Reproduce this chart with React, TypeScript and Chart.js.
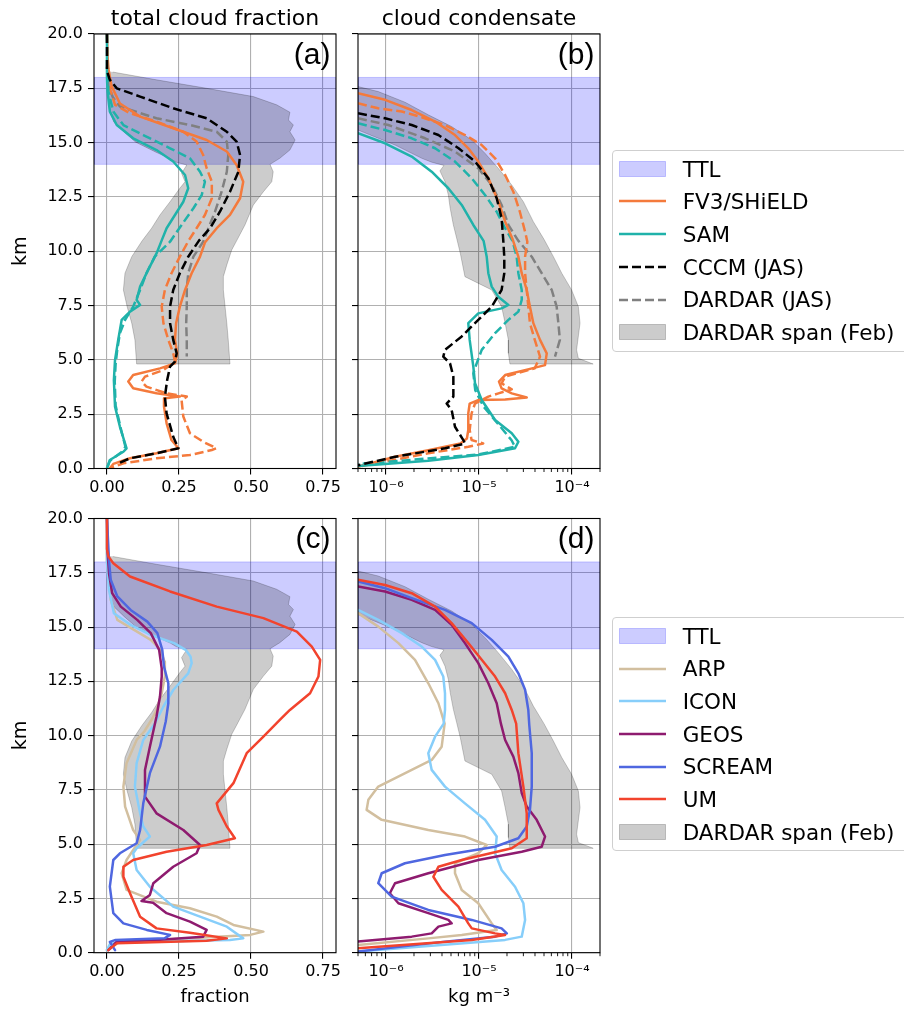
import React, { useEffect, useRef } from 'react';
import { Chart, registerables } from 'chart.js';

Chart.register(...registerables);

type Pt = [number, number];

// ---------- axes ----------
const fracMin = -0.045;
const fracMax = 0.795;
const condMin = 5e-7;
const condMax = 2e-4;
const kmMin = 0;
const kmMax = 20;
const kmTicks = [0, 2.5, 5, 7.5, 10, 12.5, 15, 17.5, 20];
const kmTickLabels = ['0.0', '2.5', '5.0', '7.5', '10.0', '12.5', '15.0', '17.5', '20.0'];
const fracTicks = [0, 0.25, 0.5, 0.75];
const fracTickLabels = ['0.00', '0.25', '0.50', '0.75'];
const condTicks = [1e-6, 1e-5, 1e-4];
const condTickLabels = ['10\u207B\u2076', '10\u207B\u2075', '10\u207B\u2074'];
const ttlBottom = 14;
const ttlTop = 18;

// ---------- panel (a): total cloud fraction, [fraction, km] ----------
const fv3Fraction: Pt[] = [[0,20],[0.002,19],[0.005,18.4],[0.016,17.6],[0.045,16.8],[0.115,16.2],[0.23,15.66],[0.346,15.12],[0.416,14.59],[0.45,13.97],[0.473,13.2],[0.462,12.44],[0.427,11.67],[0.381,11.06],[0.34,10.4],[0.323,9.75],[0.294,8.99],[0.271,8.22],[0.253,7.45],[0.24,6.69],[0.236,5.92],[0.244,5.3],[0.236,4.84],[0.184,4.61],[0.091,4.3],[0.074,4.0],[0.091,3.69],[0.172,3.46],[0.253,3.31],[0.201,3.23],[0.198,2.85],[0.207,2.08],[0.224,1.31],[0.248,0.93],[0.172,0.7],[0.08,0.47],[0.022,0.21],[0.01,0.01]];
const fv3FractionAlt: Pt[] = [[0,20],[0.003,18.5],[0.01,17.5],[0.028,16.74],[0.08,16.35],[0.172,15.97],[0.265,15.5],[0.311,15.05],[0.334,14.43],[0.346,13.82],[0.364,13.2],[0.364,12.44],[0.34,11.67],[0.311,11.06],[0.283,10.48],[0.253,9.75],[0.224,8.99],[0.201,8.22],[0.19,7.45],[0.196,6.69],[0.213,5.92],[0.23,5.3],[0.236,4.92],[0.196,4.53],[0.132,4.23],[0.12,4.0],[0.137,3.77],[0.207,3.46],[0.277,3.31],[0.259,3.15],[0.265,2.39],[0.288,1.62],[0.334,1.23],[0.38,0.93],[0.364,0.85],[0.288,0.62],[0.172,0.47],[0.057,0.24],[0.01,0.01]];
const samFraction: Pt[] = [[0,20],[0,18],[0.002,17.35],[0.01,16.43],[0.034,15.81],[0.091,15.2],[0.172,14.66],[0.23,14.13],[0.271,13.51],[0.282,12.9],[0.265,12.28],[0.236,11.67],[0.207,11.06],[0.19,10.5],[0.172,9.9],[0.143,9.14],[0.115,8.37],[0.103,7.76],[0.115,7.53],[0.08,7.22],[0.051,6.84],[0.039,5.92],[0.028,5.0],[0.024,4.07],[0.028,2.85],[0.045,1.92],[0.068,0.93],[0.057,0.77],[0.01,0.39],[0,0.01]];
const samFractionAlt: Pt[] = [[0,20],[0.005,17.35],[0.022,16.43],[0.057,15.81],[0.126,15.35],[0.219,14.74],[0.288,14.28],[0.323,13.66],[0.34,13.2],[0.329,12.59],[0.3,11.98],[0.259,11.21],[0.219,10.44],[0.166,9.75],[0.137,8.99],[0.115,8.22],[0.091,7.45],[0.063,6.84],[0.045,6.23],[0.036,5.5],[0.03,4.8],[0.027,4.0],[0.03,2.9],[0.046,1.95],[0.064,1.0],[0.05,0.75],[0.01,0.35],[0,0.01]];
const cccmFraction: Pt[] = [[0,20],[0,18.3],[0.01,17.89],[0.034,17.5],[0.115,17.12],[0.23,16.58],[0.346,16.12],[0.416,15.5],[0.45,15.05],[0.462,14.43],[0.456,13.66],[0.427,12.74],[0.392,11.82],[0.358,11.06],[0.32,10.5],[0.282,9.75],[0.253,8.99],[0.23,8.22],[0.219,7.45],[0.219,6.69],[0.23,5.92],[0.242,5.3],[0.236,4.92],[0.219,4.69],[0.209,4.07],[0.201,3.31],[0.207,2.54],[0.23,1.46],[0.248,0.93],[0.172,0.7],[0.08,0.47],[0.034,0.21]];
const dardarFraction: Pt[] = [[0,18.5],[0.005,17.6],[0.02,17.1],[0.045,16.66],[0.172,16.12],[0.288,15.81],[0.381,15.5],[0.416,15.05],[0.421,14.43],[0.416,13.66],[0.398,12.74],[0.375,11.82],[0.352,11.06],[0.334,10.44],[0.3,9.75],[0.282,8.99],[0.277,8.22],[0.277,7.45],[0.275,6.69],[0.277,5.92],[0.277,5.15]];
const spanFracMin: Pt[] = [[0,18.3],[0.003,17.5],[0.008,16.8],[0.012,16.4],[0.024,15.94],[0.06,15.48],[0.1,15.02],[0.17,14.56],[0.22,14.26],[0.24,14.1],[0.277,13.97],[0.259,13.59],[0.271,13.2],[0.253,12.9],[0.219,12.28],[0.184,11.67],[0.155,11.06],[0.122,10.48],[0.086,9.75],[0.0625,8.99],[0.057,8.22],[0.07,7.45],[0.086,6.69],[0.097,5.92],[0.103,4.81]];
const spanFracMax: Pt[] = [[0.427,4.81],[0.421,5.92],[0.416,6.69],[0.41,7.45],[0.404,8.22],[0.404,8.83],[0.416,9.37],[0.433,10.06],[0.45,10.48],[0.479,11.21],[0.508,12.13],[0.543,12.74],[0.572,13.2],[0.577,13.66],[0.566,14.0],[0.6,14.28],[0.635,14.66],[0.653,15.12],[0.635,15.5],[0.647,15.81],[0.63,16.04],[0.635,16.4],[0.589,16.74],[0.508,17.12],[0.346,17.5],[0.172,17.89],[0.02,18.25]];

// ---------- panel (b): cloud condensate, [kg m-3, km] ----------
const fv3Condensate: Pt[] = [[5.0e-7,17.27],[9.77e-7,16.97],[1.89e-6,16.5],[3.37e-6,15.97],[5.52e-6,15.35],[7.67e-6,14.74],[9.82e-6,14.13],[1.26e-5,13.36],[1.62e-5,12.28],[1.91e-5,11.36],[2.3e-5,10.55],[2.65e-5,9.75],[2.88e-5,8.99],[3.26e-5,8.22],[3.53e-5,7.45],[3.84e-5,6.69],[4.53e-5,5.92],[5.35e-5,5.3],[5.13e-5,4.76],[3.72e-5,4.61],[1.91e-5,4.3],[1.64e-5,4.0],[1.75e-5,3.69],[2.25e-5,3.46],[3.26e-5,3.27],[1.91e-5,3.18],[9.8e-6,3.15],[7.94e-6,2.99],[7.67e-6,2.54],[7.67e-6,1.77],[7.41e-6,1.38],[6.31e-6,1.15],[2.85e-6,0.84],[1.25e-6,0.54],[5.0e-7,0.08]];
const fv3CondensateAlt: Pt[] = [[5.0e-7,16.81],[8.26e-7,16.58],[1.48e-6,16.43],[2.42e-6,16.17],[4.31e-6,15.81],[7.08e-6,15.35],[1.07e-5,14.89],[1.49e-5,14.28],[1.91e-5,13.51],[2.34e-5,12.74],[2.75e-5,11.82],[3.13e-5,10.9],[3.31e-5,10.44],[3.13e-5,9.75],[3.13e-5,8.99],[3.26e-5,8.22],[3.39e-5,7.45],[3.53e-5,6.69],[3.98e-5,5.92],[4.53e-5,5.15],[3.98e-5,4.61],[1.91e-5,4.23],[1.75e-5,3.92],[2.25e-5,3.64],[1.62e-5,3.46],[1.26e-5,3.31],[9.06e-6,2.99],[8.32e-6,2.54],[7.94e-6,1.77],[8.32e-6,1.31],[1.11e-5,1.15],[7.67e-6,1.0],[2.85e-6,0.7],[5.0e-7,0.08]];
const samCondensate: Pt[] = [[5.0e-7,15.43],[9.77e-7,14.97],[1.89e-6,14.36],[3.1e-6,13.66],[4.68e-6,12.9],[6.52e-6,12.13],[8.69e-6,11.21],[1.12e-5,10.48],[1.21e-5,9.75],[1.26e-5,8.99],[1.37e-5,8.37],[1.61e-5,7.91],[2.07e-5,7.53],[1.75e-5,7.37],[9.82e-6,7.14],[7.67e-6,6.69],[7.94e-6,5.92],[8.69e-6,4.69],[9.06e-6,3.92],[1.07e-5,3.15],[1.49e-5,2.23],[2.25e-5,1.62],[2.65e-5,1.23],[2.44e-5,0.93],[9.82e-6,0.62],[2.85e-6,0.36],[5.0e-7,0.11]];
const samCondensateAlt: Pt[] = [[5.0e-7,15.89],[9.77e-7,15.58],[1.89e-6,15.2],[3.37e-6,14.74],[5.52e-6,14.13],[8.36e-6,13.36],[1.16e-5,12.59],[1.55e-5,11.82],[1.91e-5,11.06],[2.29e-5,10.48],[2.54e-5,9.75],[2.65e-5,8.99],[2.88e-5,8.22],[2.88e-5,7.76],[2.65e-5,7.22],[2.07e-5,6.84],[1.49e-5,6.23],[1.07e-5,5.46],[9.44e-6,4.84],[8.69e-6,4.38],[9.12e-6,3.6],[1.12e-5,2.85],[1.7e-5,1.92],[2.24e-5,1.3],[2.44e-5,1.0],[1.0e-5,0.65],[5.0e-7,0.2]];
const cccmCondensate: Pt[] = [[5.0e-7,16.35],[9.77e-7,16.12],[1.89e-6,15.81],[3.66e-6,15.35],[6.03e-6,14.74],[9.06e-6,14.13],[1.26e-5,13.36],[1.55e-5,12.44],[1.75e-5,11.52],[1.82e-5,10.56],[1.87e-5,9.75],[1.87e-5,8.99],[1.75e-5,8.22],[1.37e-5,7.45],[9.82e-6,6.84],[6.52e-6,6.08],[4.31e-6,5.46],[4.13e-6,5.15],[4.88e-6,4.84],[5.3e-6,4.23],[5.3e-6,3.31],[4.49e-6,2.99],[5.08e-6,2.69],[5.52e-6,1.92],[6.78e-6,1.31],[7.08e-6,1.15],[4.31e-6,0.93],[1.26e-6,0.54],[5.0e-7,0.15]];
const dardarCondensate: Pt[] = [[5.0e-7,16.12],[1.06e-6,15.81],[2.63e-6,15.2],[5.52e-6,14.59],[9.82e-6,13.82],[1.37e-5,13.05],[1.75e-5,12.13],[2.07e-5,11.21],[2.63e-5,10.5],[3.69e-5,9.75],[4.72e-5,8.99],[6.05e-5,8.22],[6.84e-5,7.45],[7.13e-5,6.69],[7.41e-5,5.92],[6.56e-5,5.15]];
const spanCondMin: Pt[] = [[5.0e-7,15.58],[1.25e-6,14.89],[2.42e-6,14.28],[3.1e-6,14.1],[4.2e-6,13.95],[3.8e-6,13.7],[4.31e-6,13.2],[4.68e-6,12.59],[4.9e-6,11.98],[5.3e-6,11.21],[5.75e-6,10.6],[6.3e-6,9.9],[7.06e-6,8.83],[1.37e-5,8.22],[1.75e-5,7.45],[1.91e-5,6.69],[2.07e-5,5.92],[2.07e-5,5.3],[2.15e-5,4.81]];
const spanCondMax: Pt[] = [[1.69e-4,4.81],[1.17e-4,5.07],[1.12e-4,5.46],[1.22e-4,6.69],[1.17e-4,7.45],[9.9e-5,8.22],[7.76e-5,8.99],[6.31e-5,9.75],[5.0e-5,10.55],[3.84e-5,11.36],[3.0e-5,12.28],[2.25e-5,13.05],[1.61e-5,13.82],[1.16e-5,14.51],[8.36e-6,15.12],[5.08e-6,15.74],[2.85e-6,16.28],[1.6e-6,16.86],[8.26e-7,17.35],[5.0e-7,17.58]];

// ---------- panel (c): total cloud fraction, [fraction, km] ----------
const arpFraction: Pt[] = [[0,20],[0,18],[0.013,16.25],[0.036,15.33],[0.094,14.87],[0.152,14.41],[0.186,13.95],[0.2,13.4],[0.201,12.72],[0.19,11.95],[0.172,11.18],[0.158,10.8],[0.13,10.2],[0.103,9.8],[0.068,8.73],[0.057,7.65],[0.063,6.73],[0.091,5.65],[0.115,5.19],[0.091,4.73],[0.068,4.27],[0.051,3.66],[0.068,2.89],[0.172,2.35],[0.288,2.05],[0.381,1.66],[0.439,1.28],[0.543,0.97],[0.497,0.82],[0.288,0.66],[0.045,0.51],[0,0.12]];
const iconFraction: Pt[] = [[0,20],[0,18],[0.007,16.71],[0.024,15.64],[0.082,15.1],[0.152,14.64],[0.233,14.26],[0.273,13.95],[0.29,13.64],[0.294,13.34],[0.282,12.87],[0.23,12.1],[0.196,11.34],[0.167,10.57],[0.126,9.8],[0.103,8.73],[0.097,7.65],[0.115,6.42],[0.126,5.81],[0.149,5.35],[0.103,4.81],[0.091,4.58],[0.103,3.81],[0.149,3.04],[0.23,2.12],[0.323,1.66],[0.416,1.2],[0.473,0.66],[0.427,0.59],[0.172,0.52],[0.012,0.45],[0,0.12]];
const geosFraction: Pt[] = [[0,20],[0.002,18.5],[0.007,17.48],[0.018,16.56],[0.048,15.94],[0.105,15.33],[0.152,14.72],[0.181,13.95],[0.19,13.1],[0.19,12.72],[0.184,11.8],[0.172,10.88],[0.149,9.49],[0.132,8.42],[0.132,7.19],[0.172,6.42],[0.265,5.65],[0.323,4.96],[0.311,4.58],[0.23,3.96],[0.161,3.2],[0.149,2.66],[0.12,2.38],[0.16,2.3],[0.207,1.82],[0.288,1.43],[0.346,1.05],[0.334,0.74],[0.172,0.59],[0.034,0.51],[0.005,0.12]];
const screamFraction: Pt[] = [[0,20],[0.007,18.1],[0.013,17.18],[0.036,16.41],[0.082,15.79],[0.14,15.25],[0.175,14.72],[0.192,13.95],[0.198,13.18],[0.213,12.41],[0.213,11.49],[0.204,10.65],[0.184,9.49],[0.149,8.27],[0.126,6.88],[0.115,5.65],[0.103,5.04],[0.045,4.58],[0.022,4.27],[0.01,3.04],[0.022,1.82],[0.057,1.35],[0.138,1.05],[0.219,0.82],[0.2,0.66],[0.03,0.59],[0.01,0.5],[0.028,0.12]];
const umFraction: Pt[] = [[0,20],[0,18.6],[0.005,18.25],[0.022,17.94],[0.08,17.33],[0.219,16.64],[0.381,15.94],[0.543,15.41],[0.659,14.79],[0.711,14.1],[0.74,13.49],[0.734,12.72],[0.705,11.95],[0.635,11.18],[0.6,10.72],[0.543,9.95],[0.485,9.19],[0.439,7.81],[0.381,6.88],[0.387,6.58],[0.416,5.81],[0.444,5.27],[0.346,4.96],[0.207,4.65],[0.091,4.27],[0.057,3.96],[0.057,3.5],[0.08,2.74],[0.115,1.66],[0.172,1.12],[0.288,0.92],[0.416,0.66],[0.346,0.55],[0.034,0.43],[0.005,0.12]];

// ---------- panel (d): cloud condensate, [kg m-3, km] ----------
const arpCondensate: Pt[] = [[5.0e-7,15.64],[8.26e-7,15.02],[1.36e-6,14.26],[2.05e-6,13.49],[2.85e-6,12.41],[3.66e-6,11.49],[4.27e-6,10.55],[3.97e-6,9.49],[3.1e-6,8.88],[1.89e-6,8.42],[8.26e-7,7.65],[6.46e-7,7.04],[6.19e-7,6.58],[8.99e-7,6.12],[2.85e-6,5.65],[7.06e-6,5.35],[1.21e-5,4.96],[9.82e-6,4.58],[5.52e-6,4.12],[5.52e-6,3.66],[6.52e-6,2.89],[9.82e-6,2.28],[1.37e-5,1.35],[1.55e-5,1.05],[6.52e-6,0.82],[2.85e-6,0.66],[5.0e-7,0.35]];
const iconCondensate: Pt[] = [[5.0e-7,15.79],[8.26e-7,15.33],[1.48e-6,14.72],[2.42e-6,14.1],[3.37e-6,13.49],[4.13e-6,12.72],[4.31e-6,11.95],[4.31e-6,11.18],[4.17e-6,10.55],[3.37e-6,9.95],[2.85e-6,9.19],[3.1e-6,8.42],[4.31e-6,7.65],[7.06e-6,6.88],[1.16e-5,6.12],[1.55e-5,5.35],[1.49e-5,4.58],[1.75e-5,3.81],[2.44e-5,3.04],[3.0e-5,2.28],[3.13e-5,1.51],[2.88e-5,0.74],[1.91e-5,0.59],[5.0e-7,0.05]];
const geosCondensate: Pt[] = [[5.0e-7,16.87],[9.77e-7,16.64],[1.89e-6,16.25],[3.37e-6,15.79],[5.08e-6,15.1],[7.06e-6,14.26],[9.82e-6,13.34],[1.26e-5,12.41],[1.55e-5,11.49],[1.72e-5,10.55],[1.91e-5,9.8],[2.34e-5,9.03],[2.65e-5,8.27],[2.88e-5,7.35],[3.26e-5,6.73],[4.17e-5,6.12],[5.13e-5,5.35],[4.72e-5,4.88],[2.88e-5,4.65],[9.82e-6,4.27],[2.85e-6,3.66],[1.25e-6,3.2],[1.1e-6,2.74],[1.36e-6,2.28],[2.85e-6,1.82],[4.68e-6,1.51],[5.08e-6,1.35],[3.66e-6,1.2],[3.1e-6,0.89],[1.89e-6,0.74],[5.0e-7,0.51]];
const screamCondensate: Pt[] = [[5.0e-7,17.1],[9.77e-7,16.79],[1.89e-6,16.33],[4.31e-6,15.79],[8.36e-6,15.18],[1.37e-5,14.41],[2.07e-5,13.64],[2.65e-5,12.87],[3.13e-5,12.11],[3.39e-5,11.18],[3.47e-5,10.5],[3.69e-5,9.19],[3.69e-5,7.65],[3.53e-5,6.58],[3.26e-5,5.81],[2.65e-5,5.27],[1.49e-5,4.88],[4.31e-6,4.5],[1.6e-6,4.12],[8.99e-7,3.66],[8.26e-7,3.2],[1.15e-6,2.58],[2.85e-6,1.97],[8.36e-6,1.51],[1.75e-5,1.12],[1.99e-5,0.89],[1.49e-5,0.74],[4.31e-6,0.51],[5.0e-7,0.05]];
const umCondensate: Pt[] = [[5.0e-7,17.18],[9.77e-7,16.94],[1.89e-6,16.56],[3.37e-6,15.94],[5.08e-6,15.18],[7.67e-6,14.26],[1.07e-5,13.49],[1.49e-5,12.72],[1.91e-5,11.95],[2.25e-5,11.18],[2.51e-5,10.55],[2.65e-5,9.19],[3.0e-5,7.65],[3.26e-5,6.42],[3.26e-5,5.27],[2.25e-5,4.81],[6.52e-6,4.27],[3.66e-6,3.96],[3.23e-6,3.5],[3.97e-6,2.89],[6.0e-6,2.12],[7.67e-6,1.35],[8.36e-6,1.12],[1.49e-5,0.89],[1.91e-5,0.82],[8.36e-6,0.59],[5.0e-7,0.2]];

// ---------- styles ----------
const TTL_FILL = 'rgba(0,0,255,0.2)';
const SPAN_FILL = 'rgba(0,0,0,0.2)';
const C_FV3 = '#f47a3c';
const C_SAM = '#20b2aa';
const C_CCCM = '#000000';
const C_DARDAR = '#808080';
const C_ARP = '#d2bf9f';
const C_ICON = '#87cefa';
const C_GEOS = '#8e1b6f';
const C_SCREAM = '#4f67e0';
const C_UM = '#f2432d';
const FONT = "'DejaVu Sans', sans-serif";
const PAGE_W = 904;
const PAGE_H = 1015;
const X_AXIS_H = 55;
const DASH = [9, 4];

const toXY = (pts: Pt[]) => pts.map(([x, y]) => ({ x, y }));

function lineDs(pts: Pt[], color: string, dashed: boolean) {
  return {
    data: toXY(pts), borderColor: color, backgroundColor: color, borderWidth: 2.5,
    borderDash: dashed ? DASH : [], pointRadius: 0, showLine: true, fill: false,
    borderJoinStyle: 'round', borderCapStyle: dashed ? 'butt' : 'round', tension: 0,
  };
}
function shapeDs(pts: Pt[], fillColor: string) {
  return {
    data: toXY(pts), borderColor: fillColor, backgroundColor: fillColor, borderWidth: 1,
    pointRadius: 0, showLine: true, fill: 'shape', tension: 0,
  };
}
function ttlBand(xLo: number, xHi: number): Pt[] {
  return [[xLo, ttlBottom], [xHi, ttlBottom], [xHi, ttlTop], [xLo, ttlTop], [xLo, ttlBottom]];
}
function ordered(list: any[]) {
  return list.map((d, i) => ({ ...d, order: list.length - i }));
}

const framePlugin = {
  id: 'frame',
  afterDatasetsDraw(chart: any) {
    const { ctx, chartArea: a } = chart;
    ctx.save();
    ctx.strokeStyle = '#000';
    ctx.lineWidth = 1.1;
    ctx.strokeRect(a.left, a.top, a.right - a.left, a.bottom - a.top);
    ctx.restore();
  },
};
const minorTickPlugin = {
  id: 'minorTicks',
  afterDraw(chart: any) {
    const sx = chart.scales.x;
    if (sx.type !== 'logarithmic') return;
    const { ctx, chartArea: a } = chart;
    ctx.save();
    ctx.strokeStyle = '#000';
    ctx.lineWidth = 0.9;
    for (let e = -7; e <= -4; e++) {
      for (let m = 2; m <= 9; m++) {
        const v = m * Math.pow(10, e);
        if (v < condMin * 0.999 || v > condMax * 1.001) continue;
        const px = sx.getPixelForValue(v);
        ctx.beginPath();
        ctx.moveTo(px, a.bottom);
        ctx.lineTo(px, a.bottom + 3.5);
        ctx.stroke();
      }
    }
    ctx.restore();
  },
};

type Area = { left: number; right: number; top: number; bottom: number };
type PanelSpec = { area: Area; log: boolean; yLabels: boolean; xTitle: string; datasets: any[] };

function buildConfig(p: PanelSpec): any {
  const yW = p.yLabels ? p.area.left : 6;
  const padL = p.area.left - yW;
  const xTicks = p.log ? condTicks : fracTicks;
  const xLabels = p.log ? condTickLabels : fracTickLabels;
  const grid = { color: '#b0b0b0', lineWidth: 1.1, tickColor: '#000', tickLength: 6, tickWidth: 1.1 };
  return {
    type: 'scatter',
    data: { datasets: p.datasets },
    options: {
      animation: false,
      responsive: false,
      maintainAspectRatio: false,
      events: [],
      layout: { padding: { left: padL, top: p.area.top, right: PAGE_W - p.area.right, bottom: PAGE_H - p.area.bottom - X_AXIS_H } },
      plugins: { legend: { display: false }, tooltip: { enabled: false }, title: { display: false } },
      scales: {
        x: {
          type: p.log ? 'logarithmic' : 'linear',
          min: p.log ? condMin : fracMin,
          max: p.log ? condMax : fracMax,
          afterFit: (s: any) => { s.height = X_AXIS_H; },
          afterBuildTicks: (s: any) => { s.ticks = xTicks.map((v) => ({ value: v })); },
          ticks: { autoSkip: false, maxRotation: 0, minRotation: 0, padding: 4, color: '#000', font: { family: FONT, size: 16 }, callback: (_v: any, i: number) => xLabels[i] },
          grid,
          border: { display: false },
          title: { display: p.xTitle !== '', text: p.xTitle, color: '#000', font: { family: FONT, size: 18 }, padding: { top: 0, bottom: 0 } },
        },
        y: {
          type: 'linear',
          min: kmMin,
          max: kmMax,
          afterFit: (s: any) => { s.width = yW; },
          afterBuildTicks: (s: any) => { s.ticks = kmTicks.map((v) => ({ value: v })); },
          ticks: { display: p.yLabels, autoSkip: false, padding: 5, color: '#000', font: { family: FONT, size: 16 }, callback: (_v: any, i: number) => kmTickLabels[i] },
          grid,
          border: { display: false },
          title: { display: p.yLabels, text: 'km', color: '#000', font: { family: FONT, size: 19 }, padding: { top: 10, bottom: 0 } },
        },
      },
    },
    plugins: [framePlugin, minorTickPlugin],
  };
}

const AREA_A: Area = { left: 94, right: 336, top: 34, bottom: 468.5 };
const AREA_B: Area = { left: 358, right: 600, top: 34, bottom: 468.5 };
const AREA_C: Area = { left: 94, right: 336, top: 518.5, bottom: 952.7 };
const AREA_D: Area = { left: 358, right: 600, top: 518.5, bottom: 952.7 };

const panels: PanelSpec[] = [
  {
    area: AREA_A, log: false, yLabels: true, xTitle: '',
    datasets: ordered([
      shapeDs(ttlBand(fracMin, fracMax), TTL_FILL),
      shapeDs([...spanFracMin, ...spanFracMax], SPAN_FILL),
      lineDs(dardarFraction, C_DARDAR, true),
      lineDs(fv3FractionAlt, C_FV3, true),
      lineDs(samFractionAlt, C_SAM, true),
      lineDs(fv3Fraction, C_FV3, false),
      lineDs(samFraction, C_SAM, false),
      lineDs(cccmFraction, C_CCCM, true),
    ]),
  },
  {
    area: AREA_B, log: true, yLabels: false, xTitle: '',
    datasets: ordered([
      shapeDs(ttlBand(condMin, condMax), TTL_FILL),
      shapeDs([...spanCondMin, ...spanCondMax], SPAN_FILL),
      lineDs(dardarCondensate, C_DARDAR, true),
      lineDs(fv3CondensateAlt, C_FV3, true),
      lineDs(samCondensateAlt, C_SAM, true),
      lineDs(fv3Condensate, C_FV3, false),
      lineDs(samCondensate, C_SAM, false),
      lineDs(cccmCondensate, C_CCCM, true),
    ]),
  },
  {
    area: AREA_C, log: false, yLabels: true, xTitle: 'fraction',
    datasets: ordered([
      shapeDs(ttlBand(fracMin, fracMax), TTL_FILL),
      shapeDs([...spanFracMin, ...spanFracMax], SPAN_FILL),
      lineDs(arpFraction, C_ARP, false),
      lineDs(iconFraction, C_ICON, false),
      lineDs(geosFraction, C_GEOS, false),
      lineDs(screamFraction, C_SCREAM, false),
      lineDs(umFraction, C_UM, false),
    ]),
  },
  {
    area: AREA_D, log: true, yLabels: false, xTitle: 'kg m\u207B\u00B3',
    datasets: ordered([
      shapeDs(ttlBand(condMin, condMax), TTL_FILL),
      shapeDs([...spanCondMin, ...spanCondMax], SPAN_FILL),
      lineDs(arpCondensate, C_ARP, false),
      lineDs(iconCondensate, C_ICON, false),
      lineDs(geosCondensate, C_GEOS, false),
      lineDs(screamCondensate, C_SCREAM, false),
      lineDs(umCondensate, C_UM, false),
    ]),
  },
];

// ---------- legends ----------
type LegendItem = { label: string; kind: 'patch' | 'line'; color: string; dashed?: boolean };
const legendTopItems: LegendItem[] = [
  { label: 'TTL', kind: 'patch', color: TTL_FILL },
  { label: 'FV3/SHiELD', kind: 'line', color: C_FV3 },
  { label: 'SAM', kind: 'line', color: C_SAM },
  { label: 'CCCM (JAS)', kind: 'line', color: C_CCCM, dashed: true },
  { label: 'DARDAR (JAS)', kind: 'line', color: C_DARDAR, dashed: true },
  { label: 'DARDAR span (Feb)', kind: 'patch', color: SPAN_FILL },
];
const legendBottomItems: LegendItem[] = [
  { label: 'TTL', kind: 'patch', color: TTL_FILL },
  { label: 'ARP', kind: 'line', color: C_ARP },
  { label: 'ICON', kind: 'line', color: C_ICON },
  { label: 'GEOS', kind: 'line', color: C_GEOS },
  { label: 'SCREAM', kind: 'line', color: C_SCREAM },
  { label: 'UM', kind: 'line', color: C_UM },
  { label: 'DARDAR span (Feb)', kind: 'patch', color: SPAN_FILL },
];

function Legend({ items, top, firstBaseline, step, bottom }: { items: LegendItem[]; top: number; firstBaseline: number; step: number; bottom: number }) {
  return (
    <>
      <div style={{ position: 'absolute', left: 611.5, top, width: 320, height: bottom - top, border: '1px solid #cfcfcf', borderRadius: 4, background: 'rgba(255,255,255,0.8)', boxSizing: 'border-box' }} />
      {items.map((it, i) => {
        const base = firstBaseline + i * step;
        const cy = base - 8;
        return (
          <React.Fragment key={i}>
            {it.kind === 'patch' ? (
              <svg style={{ position: 'absolute', left: 619, top: cy - 8 }} width={47} height={16}>
                <rect x={0.5} y={0.5} width={46} height={15} fill={it.color} stroke={it.color} strokeWidth={1} />
              </svg>
            ) : (
              <svg style={{ position: 'absolute', left: 619, top: cy - 3 }} width={47} height={6}>
                <line x1={0} y1={3} x2={47} y2={3} stroke={it.color} strokeWidth={2.5} strokeDasharray={it.dashed ? DASH.join(' ') : undefined} />
              </svg>
            )}
            <div style={{ position: 'absolute', left: 682.7, top: base - 18.2, fontFamily: FONT, fontSize: 21.5, lineHeight: '21.5px', whiteSpace: 'nowrap', color: '#000' }}>{it.label}</div>
          </React.Fragment>
        );
      })}
    </>
  );
}

function PanelChart({ spec }: { spec: PanelSpec }) {
  const ref = useRef<HTMLCanvasElement>(null);
  useEffect(() => {
    const chart = new Chart(ref.current as HTMLCanvasElement, buildConfig(spec));
    return () => chart.destroy();
  }, [spec]);
  return <canvas ref={ref} width={PAGE_W} height={PAGE_H} style={{ position: 'absolute', left: 0, top: 0, width: PAGE_W, height: PAGE_H }} />;
}

const panelLetters = ['(a)', '(b)', '(c)', '(d)'];
const panelAreas = [AREA_A, AREA_B, AREA_C, AREA_D];

export default function App() {
  return (
    <div style={{ position: 'absolute', left: 0, top: 0, width: PAGE_W, height: PAGE_H, overflow: 'hidden', background: '#fff' }}>
      {panels.map((p, i) => <PanelChart key={i} spec={p} />)}
      <div style={{ position: 'absolute', left: 65, width: 300, top: 6.9, textAlign: 'center', fontFamily: FONT, fontSize: 22, lineHeight: '22px' }}>total cloud fraction</div>
      <div style={{ position: 'absolute', left: 329, width: 300, top: 6.9, textAlign: 'center', fontFamily: FONT, fontSize: 22, lineHeight: '22px' }}>cloud condensate</div>
      {panelAreas.map((a, i) => (
        <div key={i} style={{ position: 'absolute', left: a.right - 5.5 - 100, width: 100, top: a.top + 4.6, textAlign: 'right', fontFamily: "'Liberation Sans', Arial, sans-serif", fontSize: 30, lineHeight: '30px' }}>{panelLetters[i]}</div>
      ))}
      <Legend items={legendTopItems} top={150} firstBaseline={176.7} step={32.7} bottom={352.3} />
      <Legend items={legendBottomItems} top={617.3} firstBaseline={644} step={32.65} bottom={851.5} />
    </div>
  );
}
